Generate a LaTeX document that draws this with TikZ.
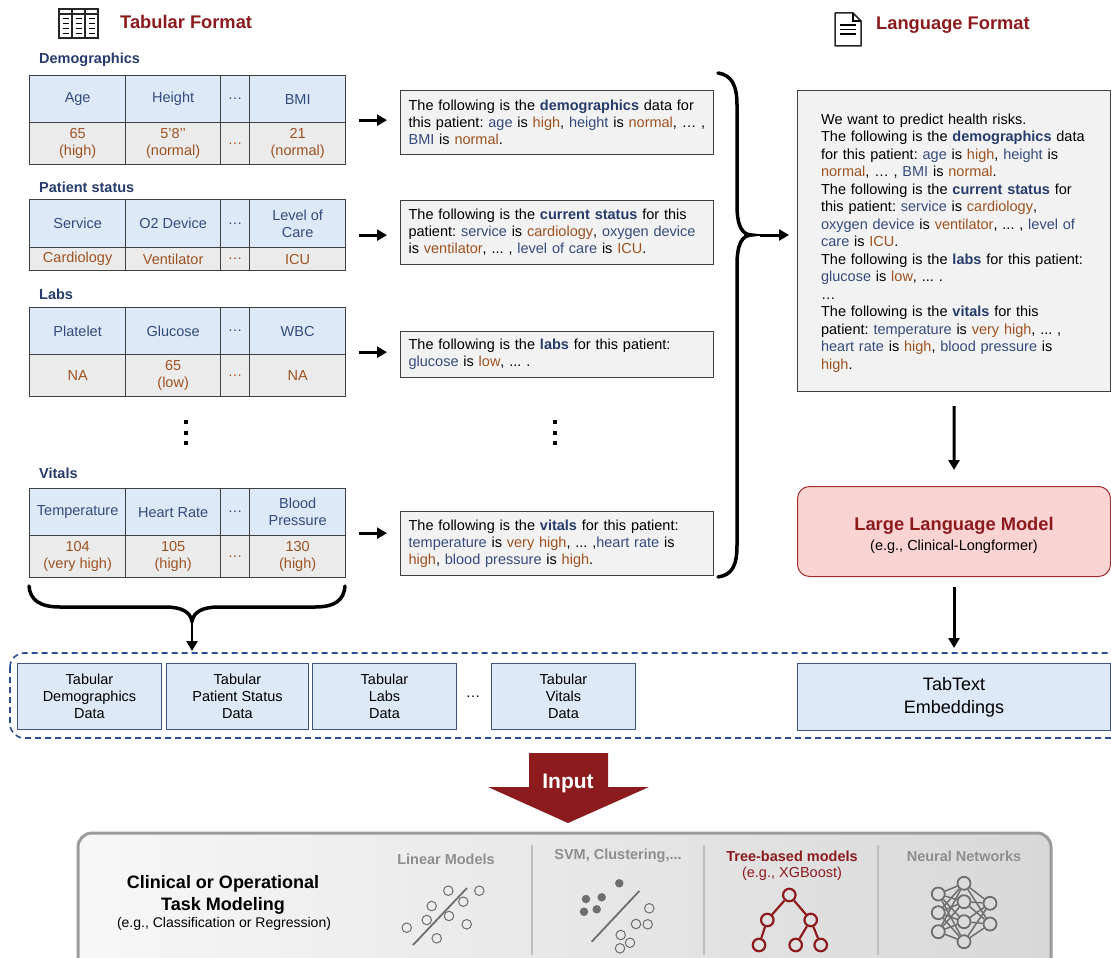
\documentclass[tikz,border=0pt]{standalone}
\usepackage{fontspec}
\setmainfont{Liberation Sans}
\usepackage{xcolor}
\usetikzlibrary{arrows.meta,positioning,calc}
\frenchspacing

\definecolor{titlered}{RGB}{140,27,30}
\definecolor{hdblue}{RGB}{38,60,108}
\definecolor{kwblue}{RGB}{52,76,125}
\definecolor{valbrown}{RGB}{158,82,32}
\definecolor{cellblue}{RGB}{221,233,246}
\definecolor{cellgray}{RGB}{235,235,235}
\definecolor{boxgray}{RGB}{242,242,242}
\definecolor{llmpink}{RGB}{250,212,211}
\definecolor{llmred}{RGB}{165,45,45}
\definecolor{dashblue}{RGB}{45,78,145}
\definecolor{tabline}{RGB}{60,85,130}
\definecolor{panelline}{RGB}{155,155,155}
\definecolor{panelL}{RGB}{247,247,247}
\definecolor{panelR}{RGB}{216,216,216}
\definecolor{sepgray}{RGB}{190,190,190}
\definecolor{icongray}{RGB}{110,110,110}
\definecolor{labelgray}{RGB}{142,142,142}

\newcommand{\kw}[1]{\textcolor{kwblue}{#1}}
\newcommand{\vl}[1]{\textcolor{valbrown}{#1}}
\newcommand{\hb}[1]{\textcolor{hdblue}{\bfseries #1}}

\begin{document}
\begin{tikzpicture}[x=1pt,y=-1pt,
  every node/.style={font=\fontsize{14.5}{17}\selectfont},
  title/.style={anchor=west, inner sep=0pt, text=titlered, font=\fontsize{18.3}{22}\selectfont\bfseries},
  sect/.style={anchor=west, inner sep=0pt, text=hdblue, font=\fontsize{14.5}{17}\selectfont\bfseries},
  hcell/.style={draw=black!75, line width=1.3pt, fill=cellblue, text=kwblue, anchor=north west, inner sep=0pt, align=center},
  dcell/.style={hcell, fill=cellgray, text=valbrown},
  colA/.style={minimum width=96pt}, colB/.style={minimum width=95pt}, colC/.style={minimum width=29pt},
  rowH/.style={minimum height=47pt}, rowD/.style={minimum height=42pt},
  txtbox/.style={draw=black!75, line width=1.2pt, fill=boxgray, anchor=north west, inner xsep=8pt, text width=297pt, align=left},
  tabbox/.style={draw=tabline, line width=1pt, fill=cellblue, anchor=north west, minimum height=66pt, inner sep=0pt, align=center},
  bigarr/.style={-{Triangle[length=10pt,width=11pt]}, line width=3pt},
  brace/.style={line width=3.5pt, line cap=round},
  modelhead/.style={text=labelgray, font=\fontsize{14.5}{17}\selectfont\bfseries},
  dot/.style={circle, draw=icongray, line width=1pt, minimum size=9.5pt, inner sep=0pt},
  fdot/.style={circle, fill=icongray, minimum size=8.5pt, inner sep=0pt},
  treenode/.style={circle, draw=titlered, line width=2.2pt, minimum size=12.5pt, inner sep=0pt},
  nnnode/.style={circle, draw=icongray, line width=1.8pt, minimum size=13pt, inner sep=0pt}
]
\useasboundingbox (0,0) rectangle (1111,958);

% headers
\draw[line width=1.5pt, black!85] (59,9) rectangle (98,38);
\draw[line width=1.2pt, black!85] (59,14) -- (98,14) (72,9) -- (72,38) (85,9) -- (85,38);
\foreach \x in {62.5,75.5,88.5}
  \foreach \y in {18.5,23.5,28.5,33.5}
    \draw[line width=1.2pt] (\x,\y) -- ++(6,0);
\node[title] (ttab) at (120,22) {Tabular Format};
\draw[line width=1.5pt, black!85, line join=round] (835,13) -- (853,13) -- (861,21) -- (861,46) -- (835,46) -- cycle;
\draw[line width=1.2pt] (853,13) -- (853,21) -- (861,21);
\foreach \y in {25,29.5,34}
  \draw[line width=1.3pt] (840,\y) -- (856,\y);
\node[title] (tlang) at (876,25) {Language Format};

% demographics
\node[sect] (sdemo) at (39,60) {Demographics};
\node[hcell, colA, rowH] (d1h) at (29,75) {Age};
\node[hcell, colB, rowH] (d2h) at (125,75) {Height};
\node[hcell, colC, rowH] (d3h) at (220,75) {…};
\node[hcell, colA, rowH] (d4h) at (249,75) {BMI};
\node[dcell, colA, rowD] (d1d) at (29,122) {65\\(high)};
\node[dcell, colB, rowD] (d2d) at (125,122) {5’8’’\\(normal)};
\node[dcell, colC, rowD] (d3d) at (220,122) {…};
\node[dcell, colA, rowD] (d4d) at (249,122) {21\\(normal)};

% patient status
\node[sect] (sstat) at (39,187) {Patient status};
\node[hcell, colA, minimum height=48pt] (p1h) at (29,199) {Service};
\node[hcell, colB, minimum height=48pt] (p2h) at (125,199) {O2 Device};
\node[hcell, colC, minimum height=48pt] (p3h) at (220,199) {…};
\node[hcell, colA, minimum height=48pt] (p4h) at (249,199) {Level of\\Care};
\node[dcell, colA, minimum height=23pt] (p1d) at (29,247) {Cardiology};
\node[dcell, colB, minimum height=23pt] (p2d) at (125,247) {Ventilator};
\node[dcell, colC, minimum height=23pt] (p3d) at (220,247) {…};
\node[dcell, colA, minimum height=23pt] (p4d) at (249,247) {ICU};

% labs
\node[sect] (slabs) at (39,294) {Labs};
\node[hcell, colA, rowH] (l1h) at (29,307) {Platelet};
\node[hcell, colB, rowH] (l2h) at (125,307) {Glucose};
\node[hcell, colC, rowH] (l3h) at (220,307) {…};
\node[hcell, colA, rowH] (l4h) at (249,307) {WBC};
\node[dcell, colA, rowD] (l1d) at (29,354) {NA};
\node[dcell, colB, rowD] (l2d) at (125,354) {65\\(low)};
\node[dcell, colC, rowD] (l3d) at (220,354) {…};
\node[dcell, colA, rowD] (l4d) at (249,354) {NA};

\foreach \y in {422,433,443} {
  \fill (184.3,\y-1.7) rectangle ++(3.4,3.4);
  \fill (553.3,\y-1.7) rectangle ++(3.4,3.4);
}

% vitals
\node[sect] (svit) at (39,473) {Vitals};
\node[hcell, colA, rowH] (v1h) at (29,488) {Temperature};
\node[hcell, colB, rowH] (v2h) at (125,488) {Heart Rate};
\node[hcell, colC, rowH] (v3h) at (220,488) {…};
\node[hcell, colA, rowH] (v4h) at (249,488) {Blood\\Pressure};
\node[dcell, colA, rowD] (v1d) at (29,535) {104\\(very high)};
\node[dcell, colB, rowD] (v2d) at (125,535) {105\\(high)};
\node[dcell, colC, rowD] (v3d) at (220,535) {…};
\node[dcell, colA, rowD] (v4d) at (249,535) {130\\(high)};

% sentences
\node[txtbox, minimum height=64pt] (txt1) at (400,90) {The following is the \hb{demographics} data for\\this patient: \kw{age} is \vl{high}, \kw{height} is \vl{normal}, … ,\\\kw{BMI} is \vl{normal}.};
\node[txtbox, minimum height=64pt] (txt2) at (400,200) {The following is the \hb{current status} for this\\patient: \kw{service} is \vl{cardiology}, \kw{oxygen device}\\is \vl{ventilator}, ... , \kw{level of care} is \vl{ICU}.};
\node[txtbox, minimum height=46pt] (txt3) at (400,331) {The following is the \hb{labs} for this patient:\\\kw{glucose} is \vl{low}, ... .};
\node[txtbox, minimum height=64pt] (txt4) at (400,511) {The following is the \hb{vitals} for this patient:\\\kw{temperature} is \vl{very high}, ... ,\kw{heart rate} is\\\vl{high}, \kw{blood pressure} is \vl{high}.};

\coordinate (d4r) at ($(d4h.north east)!.5!(d4d.south east)$);
\coordinate (p4r) at ($(p4h.north east)!.5!(p4d.south east)$);
\coordinate (l4r) at ($(l4h.north east)!.5!(l4d.south east)$);
\coordinate (v4r) at ($(v4h.north east)!.5!(v4d.south east)$);
\draw[bigarr, shorten <=13pt, shorten >=13pt] (d4r) -- (d4r -| txt1.west);
\draw[bigarr, shorten <=13pt, shorten >=13pt] (p4r) -- (p4r -| txt2.west);
\draw[bigarr, shorten <=13pt, shorten >=13pt] (l4r) -- (l4r -| txt3.west);
\draw[bigarr, shorten <=13pt, shorten >=13pt] (v4r) -- (v4r -| txt4.west);

% brace to language box
\coordinate (brtip) at (752,235);
\draw[brace] (718,73) .. controls (732,75) and (737,86) .. (737,105) -- (737,205)
  .. controls (737,226) and (742,235) .. (brtip)
  .. controls (742,235) and (737,244) .. (737,265) -- (737,545)
  .. controls (737,566) and (732,575) .. (718,577);

\node[draw=black!75, line width=1.2pt, fill=boxgray, anchor=north west, minimum height=301pt,
  inner xsep=23.5pt, text width=266pt, align=left, font=\fontsize{14.5}{17.5}\selectfont] (lang) at (797,90)
  {\rule{0pt}{14.5pt}We want to predict health risks.\\
   The following is the \hb{demographics} data\\
   for this patient: \kw{age} is \vl{high}, \kw{height} is\\
   \vl{normal}, … , \kw{BMI} is \vl{normal}.\\
   The following is the \hb{current status} for\\
   this patient: \kw{service} is \vl{cardiology},\\
   \kw{oxygen device} is \vl{ventilator}, ... , \kw{level of}\\
   \kw{care} is \vl{ICU}.\\
   The following is the \hb{labs} for this patient:\\
   \kw{glucose} is \vl{low}, ... .\\
   …\\
   The following is the \hb{vitals} for this\\
   patient: \kw{temperature} is \vl{very high}, ... ,\\
   \kw{heart rate} is \vl{high}, \kw{blood pressure} is\\
   \vl{high}.};
\draw[bigarr, shorten <=8pt, shorten >=8pt] (brtip) -- (brtip -| lang.west);

\node[draw=llmred, line width=1pt, fill=llmpink, rounded corners=12pt, anchor=north west,
  minimum width=313pt, minimum height=90pt, align=center, font=\fontsize{14.5}{20}\selectfont] (llm) at (797,486)
  {\rule{0pt}{20.5pt}{\fontsize{18.3}{20}\selectfont\bfseries\color{titlered}Large Language Model}\\(e.g., Clinical-Longformer)};
\draw[bigarr, shorten <=14pt, shorten >=16pt] (lang.south) -- (llm.north);

% embeddings row
\draw[dashblue, line width=1.6pt, dash pattern=on 6pt off 4pt, rounded corners=14pt] (10,653) rectangle (1140,738);
\node[tabbox, minimum width=144pt] (tb1) at (17,663) {Tabular\\Demographics\\Data};
\node[tabbox, minimum width=142pt] (tb2) at (166,663) {Tabular\\Patient Status\\Data};
\node[tabbox, minimum width=144pt] (tb3) at (312,663) {Tabular\\Labs\\Data};
\node (tbdots) at (473,697) {…};
\node[tabbox, minimum width=144pt] (tb4) at (491,663) {Tabular\\Vitals\\Data};
\node[tabbox, minimum width=313pt, minimum height=67pt, font=\fontsize{18}{23}\selectfont] (emb) at (797,663) {TabText\\Embeddings};
\draw[bigarr, shorten <=10pt, shorten >=15pt] (llm.south) -- (emb.north);

\coordinate (tbtip) at (192,621);
\draw[brace] (29,586) .. controls (30,600) and (40,607) .. (60,607) -- (165,607)
  .. controls (182,607) and (190,612) .. (tbtip)
  .. controls (194,612) and (202,607) .. (219,607) -- (315,607)
  .. controls (335,607) and (344,600) .. (345,586);
\draw[bigarr, line width=2.5pt] (tbtip) -- (tbtip |- tb2.north) [shorten >=12pt];

% input arrow
\fill[titlered] (529,753) -- (608,753) -- (608,787) -- (649,787) -- (568,823) -- (488,787) -- (529,787) -- cycle;
\node[text=white, font=\fontsize{21}{24}\selectfont\bfseries] (inp) at (568,783) {Input};

% models panel
\path[draw=panelline, line width=3pt, left color=panelL, right color=panelR, rounded corners=14pt] (78,833) rectangle (1051,990);
\foreach \x in {532,704,878}
  \draw[sepgray, line width=2.5pt] (\x,845) -- (\x,955);
\node[font=\fontsize{18}{22}\selectfont\bfseries, align=center] (task) at (223,895) {Clinical or Operational\\Task Modeling};
\node[font=\fontsize{14}{17}\selectfont] (taskeg) at (224,924) {(e.g., Classification or Regression)};
\node[modelhead] (mlin) at (446,859) {Linear Models};
\node[modelhead] (msvm) at (618,856) {SVM, Clustering,...};
\node[modelhead, text=titlered] (mtree) at (792,856) {Tree-based models};
\node[text=titlered] (mtreeeg) at (792,874) {(e.g., XGBoost)};
\node[modelhead] (mnn) at (964,856) {Neural Networks};

% linear icon
\draw[icongray, line width=1.8pt] (413,945) -- (467,888);
\foreach \x/\y [count=\i] in {406.7/927.7, 431.7/906, 426.7/920, 436.7/938.3, 448.3/890.7, 463.3/901.7, 479.3/890.7, 449/916, 466.7/924.3}
  \node[dot] (lin\i) at (\x,\y) {};

% svm icon
\draw[icongray, line width=1.8pt] (591.7,941.7) -- (639.3,891);
\foreach \x/\y [count=\i] in {619.3/883.3, 586/899, 601.7/897.3, 584/911.7, 596.7/909.3}
  \node[fdot] (sf\i) at (\x,\y) {};
\foreach \x/\y [count=\i] in {649.3/908.3, 636/924, 647.7/924.3, 620.7/935, 630/942.7, 620/948.3}
  \node[dot] (so\i) at (\x,\y) {};

% tree icon
\node[treenode] (tr) at (789.3,895) {};
\node[treenode] (ta) at (767.3,920) {};
\node[treenode] (tb) at (810.7,920) {};
\node[treenode] (tc) at (759,945) {};
\node[treenode] (td) at (795.7,945) {};
\node[treenode] (te) at (820.7,945) {};
\draw[titlered, line width=2.2pt] (tr) -- (ta) (tr) -- (tb) (ta) -- (tc) (tb) -- (td) (tb) -- (te);

% network icon
\foreach \y [count=\i] in {894,912.7,931.7}
  \node[nnnode] (na\i) at (938.3,\y) {};
\foreach \y [count=\i] in {883.3,901.7,921.7,941.7}
  \node[nnnode] (nb\i) at (964,\y) {};
\foreach \y [count=\i] in {903.3,924}
  \node[nnnode] (nc\i) at (990,\y) {};
\foreach \i in {1,2,3}
  \foreach \j in {1,2,3,4}
    \draw[icongray, line width=1.5pt] (na\i) -- (nb\j);
\foreach \j in {1,2,3,4}
  \foreach \k in {1,2}
    \draw[icongray, line width=1.5pt] (nb\j) -- (nc\k);
\end{tikzpicture}
\end{document}
